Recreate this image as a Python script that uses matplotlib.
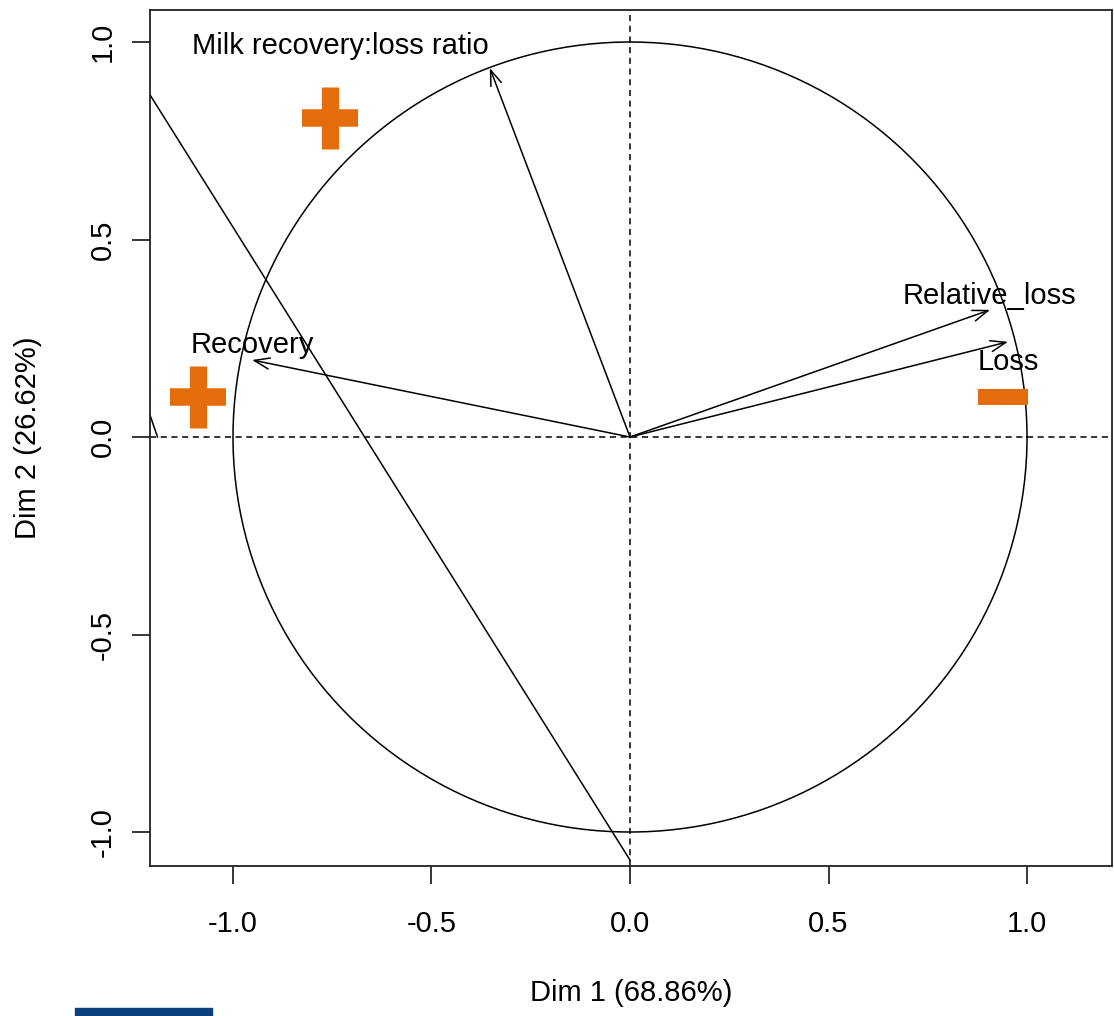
import numpy as np
import matplotlib
matplotlib.use('Agg')
import matplotlib.pyplot as plt
from matplotlib.patches import Rectangle

plt.rcParams['font.family'] = ['Liberation Sans', 'DejaVu Sans']

# variable coordinates on dims 1 and 2
var_names = ['Milk recovery:loss ratio', 'Recovery', 'Relative_loss', 'Loss']
var_x = [-0.353, -0.952, 0.907, 0.952]
var_y = [0.934, 0.195, 0.322, 0.241]
# label positions
lab_x = [-0.73, -0.952, 0.905, 0.952]
lab_y = [0.99, 0.233, 0.357, 0.19]

# stray segments
seg1_x = [-1.30, 0.0]
seg1_y = [1.012, -1.071]
seg2_x = [-1.25, -1.19]
seg2_y = [0.175, 0.0]

# orange sign markers
plus_x = [-0.756, -1.088]
plus_y = [0.808, 0.101]
minus_x = [0.94]
minus_y = [0.101]

xlabel = 'Dim 1 (68.86%)'
ylabel = 'Dim 2 (26.62%)'
ticks = [-1.0, -0.5, 0.0, 0.5, 1.0]

fig = plt.figure(figsize=(11.14, 10.16), dpi=100)
ax = fig.add_axes([150 / 1114, 150 / 1016, 962 / 1114, 856 / 1016])

t = np.linspace(0, 2 * np.pi, 400)
ax.plot(np.cos(t), np.sin(t), color='black', lw=1.1)
ax.axhline(0, color='black', lw=1.1, ls=(0, (4, 3)))
ax.axvline(0, color='black', lw=1.1, ls=(0, (4, 3)))

for nm, x, y, lx, ly in zip(var_names, var_x, var_y, lab_x, lab_y):
    ax.annotate('', xy=(x, y), xytext=(0, 0),
                arrowprops=dict(arrowstyle='->,head_length=1.1,head_width=0.4',
                                color='black', lw=1.1, shrinkA=0, shrinkB=0))
    ax.text(lx, ly, nm, fontsize=21, ha='center', va='center')

ax.plot(seg1_x, seg1_y, color='black', lw=1.1)
ax.plot(seg2_x, seg2_y, color='black', lw=1.1)

orange = '#E46C0A'
ax.plot(plus_x, plus_y, ls='none', marker='_', ms=40, mew=12.6, color=orange)
ax.plot(plus_x, plus_y, ls='none', marker='|', ms=44.6, mew=12.4, color=orange)
ax.plot(minus_x, minus_y, ls='none', marker='_', ms=36, mew=11.5, color=orange)

ax.set_xlim(-1.209, 1.214)
ax.set_ylim(-1.086, 1.081)
ax.set_xticks(ticks)
ax.set_xticklabels(['%.1f' % v for v in ticks])
ax.set_yticks(ticks)
ax.set_yticklabels(['%.1f' % v for v in ticks], rotation=90, va='center')
ax.tick_params(labelsize=21, length=13, width=1.1)
ax.tick_params(axis='x', pad=18.5)
ax.tick_params(axis='y', pad=11)
ax.set_xlabel(xlabel, fontsize=21, va='center')
ax.set_ylabel(ylabel, fontsize=21, va='center')
ax.xaxis.set_label_coords(0.5, (23 - 150) / 856)
ax.yaxis.set_label_coords((28 - 150) / 962, 0.5)
for s in ax.spines.values():
    s.set_linewidth(1.3)
    s.set_color('#222222')

fig.patches.append(Rectangle((75 / 1114, 0), 137 / 1114, 8 / 1016,
                             transform=fig.transFigure, color='#0b3f7d'))

fig.savefig('out.png', dpi=100)
